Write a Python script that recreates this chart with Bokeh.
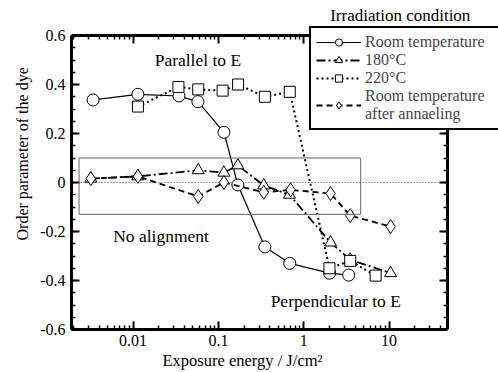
import math
from bokeh.plotting import figure
from bokeh.models import (LogAxis, LinearAxis, FixedTicker, CustomJSTickFormatter,
                          Legend, LegendItem, BoxAnnotation, Label, Range1d, Title)
from bokeh.embed import file_html
from bokeh.resources import INLINE

# Order parameter of the dye versus exposure energy (J/cm^2)
energy_rt = [0.0034, 0.0114, 0.0345, 0.0575, 0.116, 0.169, 0.35, 0.685, 2.01, 3.36]
order_rt = [0.337, 0.36, 0.353, 0.33, 0.205, -0.01, -0.263, -0.33, -0.37, -0.378]

energy_180 = [0.0032, 0.0114, 0.058, 0.116, 0.169, 0.34, 0.68, 2.06, 3.5, 10.4]
order_180 = [0.016, 0.025, 0.05, 0.04, 0.07, -0.012, -0.05, -0.245, -0.315, -0.37]

energy_220 = [0.0114, 0.034, 0.058, 0.112, 0.17, 0.35, 0.685, 2.0, 3.5, 6.95]
order_220 = [0.31, 0.39, 0.38, 0.375, 0.40, 0.35, 0.37, -0.35, -0.32, -0.38]

energy_ann = [0.0032, 0.0114, 0.058, 0.116, 0.34, 0.7, 2.06, 3.5, 10.4]
order_ann = [0.016, 0.025, -0.057, 0.0, -0.04, -0.03, -0.045, -0.135, -0.18]

series_labels = ["Room temperature", "180°C", "220°C", "Room temperature\nafter annaeling"]

# axis extents of the boxed plot area
x_lo, x_hi = 0.0019, 48.3
y_lo, y_hi = -0.6, 0.6

x_major = [0.01, 0.1, 1, 10]
x_minor = [m * d for d in [0.001, 0.01, 0.1, 1, 10] for m in range(2, 10)
           if x_lo <= m * d <= x_hi]
y_major = [-0.6, -0.4, -0.2, 0, 0.2, 0.4, 0.6]
y_minor = [round(-0.6 + 0.05 * i, 2) for i in range(25)]

# "No alignment" band
band_left, band_right, band_bottom, band_top = 0.00233, 4.64, -0.13, 0.1

FONT = "Liberation Serif"

# Canvas geometry: the frame reaches the right and top edges of the canvas so
# that the legend and its heading can sit outside the boxed axes.
W, H = 498, 372
BOX_LEFT, BOX_RIGHT, BOX_TOP, BOX_BOTTOM = 71, 447, 35, 329
FRAME_RIGHT, FRAME_TOP = W, 0
px_per_decade = (BOX_RIGHT - BOX_LEFT) / (math.log10(x_hi) - math.log10(x_lo))
px_per_unit = (BOX_BOTTOM - BOX_TOP) / (y_hi - y_lo)
x_end = 10 ** (math.log10(x_hi) + (FRAME_RIGHT - BOX_RIGHT) / px_per_decade)
y_end = y_hi + (BOX_TOP - FRAME_TOP) / px_per_unit

p = figure(width=W, height=H, x_axis_type="log",
           x_range=Range1d(x_lo, x_end), y_range=Range1d(y_lo, y_end),
           output_backend="svg", toolbar_location=None,
           min_border_left=BOX_LEFT, min_border_right=0, min_border_top=0,
           min_border_bottom=H - BOX_BOTTOM)
p.title.visible = False
p.grid.visible = False
p.outline_line_color = None
p.background_fill_color = "white"
p.border_fill_color = "white"

x_fmt = CustomJSTickFormatter(code="return tick.toString();")
y_fmt = CustomJSTickFormatter(code="return Math.abs(tick) < 1e-9 ? '0' : tick.toFixed(1);")

def style_axis(ax, labels=True):
    ax.axis_line_width = 3
    ax.axis_line_color = "black"
    ax.major_tick_in = 8
    ax.major_tick_out = 0
    ax.minor_tick_in = 4
    ax.minor_tick_out = 0
    ax.major_tick_line_width = 2
    ax.minor_tick_line_width = 1.5
    ax.major_label_text_font = FONT
    ax.major_label_text_font_size = "16px"
    ax.major_label_text_color = "black"
    if not labels:
        ax.major_label_text_alpha = 0
        ax.major_label_text_font_size = "0px"
        ax.major_label_standoff = 0

xb = p.xaxis[0]
xb.ticker = FixedTicker(ticks=x_major, minor_ticks=x_minor)
xb.formatter = x_fmt
xb.bounds = (x_lo, x_hi)
style_axis(xb)
xb.major_label_standoff = 5

yl = p.yaxis[0]
yl.ticker = FixedTicker(ticks=y_major, minor_ticks=y_minor)
yl.formatter = y_fmt
yl.bounds = (y_lo, y_hi)
style_axis(yl)
yl.major_label_standoff = 6

# top and right edges of the box, pinned inside the frame
xt = LogAxis(ticker=FixedTicker(ticks=x_major, minor_ticks=x_minor), formatter=x_fmt,
             fixed_location=y_hi, bounds=(x_lo, x_hi))
style_axis(xt, labels=False)
p.add_layout(xt, "above")

yr = LinearAxis(ticker=FixedTicker(ticks=y_major, minor_ticks=y_minor), formatter=y_fmt,
                fixed_location=x_hi, bounds=(y_lo, y_hi))
style_axis(yr, labels=False)
p.add_layout(yr, "right")

# axis titles, aligned to the boxed area rather than the whole frame
p.add_layout(Title(text="Exposure energy / J/cm²", align="left", offset=91, standoff=0,
                   text_font=FONT, text_font_size="16.5px", text_font_style="normal",
                   text_color="black"), "below")
p.add_layout(Title(text="Order parameter of the dye", align="left", offset=89, standoff=12,
                   vertical_align="middle",
                   text_font=FONT, text_font_size="16px", text_font_style="normal",
                   text_color="black"), "left")

# reference line at zero and the "no alignment" band
p.segment(x0=[x_lo], x1=[x_hi], y0=[0], y1=[0], line_color="#444444",
          line_dash="1 2", line_width=1)
p.add_layout(BoxAnnotation(left=band_left, right=band_right, bottom=band_bottom, top=band_top,
                           fill_alpha=0, line_color="#666666", line_alpha=1, line_width=1))

# series
l_rt = p.line(energy_rt, order_rt, line_color="black", line_width=1.2)
s_rt = p.scatter(energy_rt, order_rt, marker="circle", size=12, fill_color="white",
                 line_color="black", line_width=1)

l_180 = p.line(energy_180, order_180, line_color="black", line_width=1.8, line_dash="9 3 2 3")
s_180 = p.scatter(energy_180, order_180, marker="triangle", size=12, fill_color="white",
                  line_color="black", line_width=1)

l_220 = p.line(energy_220, order_220, line_color="black", line_width=2, line_dash="2 3")
s_220 = p.scatter(energy_220, order_220, marker="square", size=11, fill_color="white",
                  line_color="black", line_width=1)

l_ann = p.line(energy_ann, order_ann, line_color="black", line_width=1.8, line_dash="6 4")
s_ann = p.scatter(energy_ann, order_ann, marker="diamond", size=14, fill_color="white",
                  line_color="black", line_width=1)

# region labels
for txt, x, y in [("Parallel to E", 0.0575, 0.50),
                  ("No alignment", 0.0213, -0.218),
                  ("Perpendicular to E", 2.37, -0.485)]:
    p.add_layout(Label(x=x, y=y, text=txt, text_font=FONT, text_font_size="17.5px",
                       text_align="center", text_baseline="middle", text_color="black"))

legend = Legend(items=[LegendItem(label=series_labels[0], renderers=[l_rt, s_rt]),
                       LegendItem(label=series_labels[1], renderers=[l_180, s_180]),
                       LegendItem(label=series_labels[2], renderers=[l_220, s_220]),
                       LegendItem(label=series_labels[3], renderers=[l_ann, s_ann])],
                location=(309 - BOX_LEFT, BOX_BOTTOM - 130))
legend.label_text_font = FONT
legend.label_text_font_size = "16px"
legend.glyph_width = 45
legend.glyph_height = 18
legend.label_height = 18
legend.label_width = 150
legend.spacing = 0
legend.padding = 5
legend.margin = 0
legend.label_standoff = 4
legend.border_line_color = "black"
legend.border_line_alpha = 1
legend.border_line_width = 2
legend.background_fill_color = "white"
legend.background_fill_alpha = 1
p.add_layout(legend, "center")

p.add_layout(Label(x=13.5, y=0.682, text="Irradiation condition", text_font=FONT,
                   text_font_size="17px", text_align="center", text_baseline="middle",
                   text_color="black"))

open("out.html", "w").write(file_html(p, INLINE))
